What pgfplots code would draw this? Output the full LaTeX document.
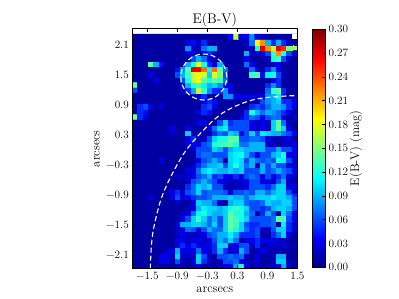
\documentclass[border=0pt]{standalone}
\usepackage{pgfplots}
\usepackage{pgfplotstable}
\pgfplotsset{compat=1.18}
% E(B-V) per spaxel in units of 0.01 mag, rows from the top, columns from the left
\pgfplotstableread[header=false]{
1 1 1 1 1 1 1 1 1 1 1 1 1 1 1 1 1 1 4 17 3 3 8 3 2 1 1 1 1 1 1
1 1 1 1 1 1 1 1 1 1 3 4 2 5 1 1 1 1 1 1 1 2 7 19 22 9 5 9 5 2 1
1 1 1 1 1 1 1 1 1 1 8 2 2 7 9 9 1 1 1 1 1 1 2 12 27 22 17 27 25 15 16
1 1 1 1 1 1 1 1 1 1 3 3 1 3 5 2 1 1 1 1 1 9 2 2 3 6 13 22 12 6 2
1 1 1 1 1 1 1 1 1 1 1 6 9 7 3 1 1 1 1 1 1 3 1 1 1 2 12 13 6 2 1
1 1 1 14 9 4 1 1 1 1 9 12 18 12 5 3 9 1 1 1 1 7 3 1 1 1 2 3 1 1 1
1 1 1 1 1 1 1 1 4 8 14 27 27 23 11 23 14 7 1 1 1 1 7 3 1 5 8 3 1 1 1
1 1 1 3 1 1 1 1 6 9 13 17 19 17 10 18 15 6 1 1 1 1 13 14 4 11 12 6 2 1 1
1 1 1 1 3 1 1 1 1 6 12 17 18 14 12 14 13 7 1 1 1 1 1 1 1 1 3 5 1 1 1
14 1 1 1 1 1 1 1 1 3 9 12 13 11 9 10 8 3 3 1 1 1 1 1 1 5 8 5 1 1 1
6 1 1 1 1 1 1 1 1 2 5 9 17 13 8 5 5 8 3 1 1 1 1 1 1 7 13 14 5 1 1
1 1 1 1 1 1 1 1 1 1 1 1 3 5 1 1 1 8 8 3 3 3 3 3 3 8 9 11 3 1 1
1 1 1 1 1 1 1 1 1 1 1 1 1 3 5 4 1 1 1 1 1 1 1 1 6 8 9 10 5 5 3
1 5 6 3 1 3 1 1 1 1 1 1 1 5 6 3 1 1 1 1 1 1 5 6 5 7 9 9 8 5 3
1 5 4 1 1 1 1 1 1 1 1 1 3 5 4 1 1 1 1 1 1 5 12 9 7 9 8 7 5 3 1
15 5 3 1 1 1 1 1 1 1 1 1 1 1 1 1 1 1 1 1 3 5 7 6 3 6 7 7 3 1 2
1 1 1 1 1 1 1 1 1 1 1 1 3 3 1 1 6 10 5 6 6 6 3 2 3 2 10 14 7 2 1
1 1 1 1 1 1 1 3 1 1 3 1 1 1 3 7 10 11 6 6 6 6 3 2 3 2 10 14 10 3 1
1 1 1 1 1 1 1 2 1 1 10 1 3 1 1 5 7 6 10 9 3 6 10 6 11 10 9 9 7 6 3
1 1 1 1 1 1 1 1 1 1 3 5 1 2 6 10 12 12 14 14 6 6 7 7 6 3 2 1 2 3 1
1 1 1 1 1 1 1 1 1 1 3 3 3 6 7 12 13 13 14 12 7 7 9 9 9 2 2 1 2 2 3
1 1 1 1 1 1 1 1 1 1 1 2 6 6 6 10 9 6 9 10 10 9 9 9 9 6 6 9 6 6 3
1 1 1 1 1 1 1 1 1 1 1 1 6 7 7 6 6 6 10 11 12 9 6 3 6 6 9 10 12 3 3
1 1 1 1 1 3 1 1 1 1 1 1 3 6 7 9 7 1 10 11 10 6 9 7 6 7 6 12 11 6 2
1 1 1 1 1 1 1 1 1 1 1 2 5 7 9 9 10 6 10 12 10 7 9 1 9 6 9 6 6 3 2
1 1 1 1 1 1 1 1 1 1 3 3 7 10 11 10 9 9 10 9 10 6 6 6 9 6 7 9 7 6 3
1 1 1 1 1 1 1 1 2 2 2 3 6 7 9 5 6 3 3 5 3 6 7 6 3 6 3 5 7 3 2
1 1 1 1 1 1 1 1 1 1 2 6 7 9 7 6 3 3 2 2 2 3 6 6 3 3 2 6 9 2 1
1 1 1 1 1 1 1 1 1 1 5 7 10 9 10 6 6 2 1 2 2 3 6 6 6 5 7 10 10 3 3
1 1 1 1 1 1 1 3 5 2 6 7 10 6 7 7 7 6 3 6 6 7 6 9 9 7 9 10 10 6 2
1 1 1 3 1 1 1 3 6 3 3 5 6 6 7 9 9 9 10 9 9 7 9 10 10 10 11 10 10 9 6
1 1 1 1 1 1 1 1 2 1 1 3 10 9 9 7 2 1 9 10 10 7 6 6 7 10 9 9 10 10 6
1 1 1 1 1 1 1 1 1 1 2 3 9 11 10 10 9 10 12 13 12 10 6 6 5 6 9 10 10 9 6
1 1 1 1 1 1 1 1 1 2 3 7 11 12 10 9 9 10 14 12 12 9 7 1 5 9 6 1 10 7 3
1 1 1 1 1 1 1 1 1 3 6 10 13 10 7 9 6 10 14 13 12 10 6 6 6 6 7 14 13 6 3
1 1 1 1 1 1 1 1 3 9 9 10 10 9 7 10 6 10 14 13 10 6 5 5 6 6 7 1 11 5 2
1 1 1 1 1 1 1 1 2 3 7 6 3 6 9 7 7 10 14 12 10 7 5 6 2 2 6 10 10 5 3
1 1 1 1 1 1 1 1 2 3 2 2 2 3 6 7 9 9 11 9 5 5 5 6 1 1 5 7 10 3 1
1 1 1 1 1 1 1 1 3 3 2 3 3 2 3 6 9 7 10 7 1 3 3 5 3 3 3 2 2 1 1
1 1 1 1 1 1 1 1 3 5 3 5 3 3 3 5 10 10 3 3 6 6 2 5 1 2 2 2 3 2 1
1 1 1 1 1 1 2 3 9 3 3 3 7 3 2 5 9 5 2 3 9 6 1 2 3 2 1 2 1 1 1
1 1 1 1 1 3 3 2 10 2 2 2 10 6 2 1 6 6 7 6 7 2 1 3 1 1 2 9 9 1 1
1 1 1 1 1 3 3 1 6 2 1 3 10 5 3 1 2 6 6 7 3 2 2 3 1 1 2 10 10 2 1
1 1 1 1 1 1 1 1 2 1 1 2 3 1 1 1 2 3 3 9 12 3 1 2 1 2 2 3 9 2 1
}\D
\def\C{}
\foreach \r in {43,42,...,0}{
  \foreach \c in {0,...,30}{
    \pgfplotstablegetelem{\r}{[index]\c}\of\D
    \pgfmathsetmacro\x{-1.8+0.10645*(\c+0.5)}
    \pgfmathsetmacro\y{2.426-0.10667*(\r+1.5)}
    \xdef\C{\C (\x,\y) [\pgfplotsretval]}
  }
}
\def\fnt#1{\fontsize{#1}{#1}\selectfont}
\definecolor{bgblue}{rgb}{0,0,0.64}
\newcommand\drawmap[1]{\addplot[matrix plot*, mesh/cols=31, point meta=explicit, y dir=normal, shader=faceted, faceted color=mapped color, line width=0.3bp] coordinates {#1};}
\begin{document}
\begin{tikzpicture}
\path[use as bounding box] (0,0) rectangle (399bp,299bp);
\begin{axis}[
  at={(132.3bp,30.3bp)}, anchor=south west,
  scale only axis, width=165bp, height=240bp,
  xmin=-1.8, xmax=1.5, ymin=-2.374, ymax=2.426,
  y dir=normal,
  axis on top, axis line style={line width=0.5bp},
  colormap/jet, point meta min=0, point meta max=30,
  xtick={-1.5,-0.9,-0.3,0.3,0.9,1.5},
  xticklabels={−1.5,−0.9,−0.3,0.3,0.9,1.5},
  ytick={-2.1,-1.5,-0.9,-0.3,0.3,0.9,1.5,2.1},
  yticklabels={−2.1,−1.5,−0.9,−0.3,0.3,0.9,1.5,2.1},
  tick align=inside, tick style={black,line width=0.4bp},
  major tick length=3.2bp,
  tick label style={font=\fnt{11.25}},
  title={E(B-V)}, every axis title shift=0pt,
  title style={font=\fnt{14},at={(0.5,1.036)},anchor=center},
  xlabel={arcsecs}, ylabel={arcsecs},
  xlabel style={font=\fnt{12.5},at={(0.5,-0.088)},anchor=center},
  ylabel style={font=\fnt{12.5},at={(-0.214,0.5)},anchor=center},
  colorbar,
  colorbar style={
    at={(1.0933,0.006)}, anchor=south west,
    width=12.3bp, height=238bp,
    ytick={0,3,...,30},
    yticklabels={0.00,0.03,0.06,0.09,0.12,0.15,0.18,0.21,0.24,0.27,0.30},
    yticklabel style={font=\fnt{11.25}},
    tick align=inside, major tick length=2.5bp,
    ytick pos=right, yticklabel pos=right,
    ylabel={E(B-V) (mag)},
    every axis y label/.style={at={(rel axis cs:3.52,0.5)},rotate=90,anchor=center,font=\fnt{12.5}},
  },
]
\fill[bgblue] (axis cs:-1.8,-2.374) rectangle (axis cs:1.5,2.3194);
\expandafter\drawmap\expandafter{\C}
\fill[white] (axis cs:1.3935,2.2127) rectangle (axis cs:1.5,2.32);
\draw[white,line width=1.1bp,dash pattern=on 5bp off 3bp] (axis cs:-0.37,1.46) circle[radius=23bp];
\addplot[white,line width=1.1bp,dash pattern=on 5bp off 3bp,smooth,forget plot,mark=none] coordinates {
(-1.44,-2.374) (-1.39,-1.66) (-1.18,-0.86) (-0.72,0) (-0.05,0.7) (0.6,1.0) (1.27,1.08) (1.5,1.08)};
\end{axis}
\end{tikzpicture}
\end{document}
